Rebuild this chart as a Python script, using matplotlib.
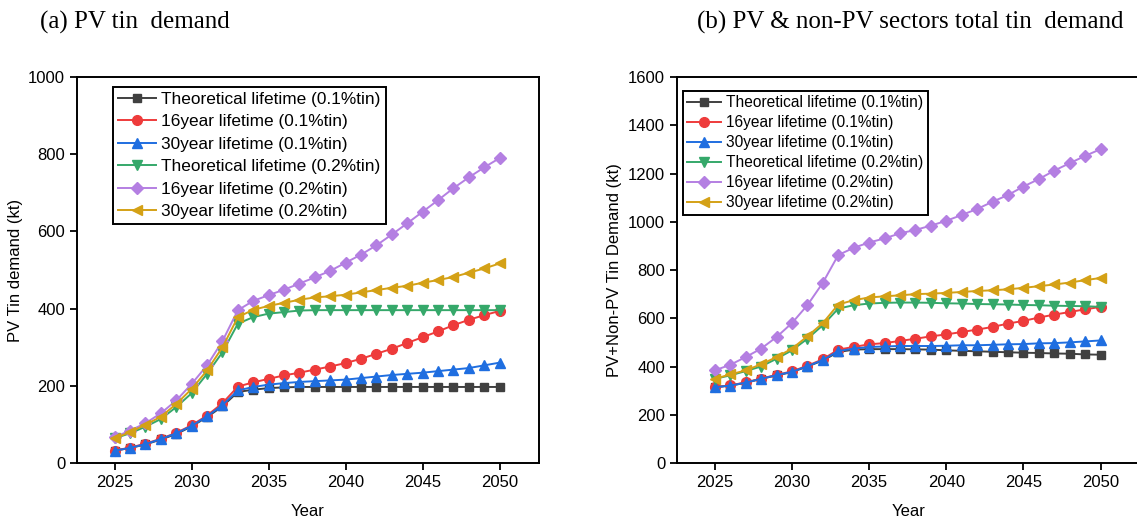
import matplotlib.pyplot as plt

# years
years = list(range(2025, 2051))

labels = ['Theoretical lifetime (0.1%tin)', '16year lifetime (0.1%tin)', '30year lifetime (0.1%tin)',
          'Theoretical lifetime (0.2%tin)', '16year lifetime (0.2%tin)', '30year lifetime (0.2%tin)']

# (a) PV tin demand (kt)
pv_theo_01 = [32, 39, 48, 61, 75, 95, 119, 147, 184, 190, 194, 196, 197, 197, 197, 197, 197, 197, 197,
              197, 197, 197, 197, 197, 197, 197]
pv_16y_01 = [32, 40, 50, 63, 78, 98, 123, 155, 198, 209, 218, 227, 234, 242, 250, 259, 270, 283, 296,
             311, 326, 341, 357, 371, 383, 394]
pv_30y_01 = [32, 39, 49, 62, 77, 96, 121, 150, 188, 197, 203, 207, 210, 212, 214, 216, 220, 224, 228,
             231, 234, 238, 242, 246, 253, 260]
pv_theo_02 = [64, 77, 94, 114, 145, 181, 231, 287, 361, 378, 387, 391, 395, 396, 396, 396, 396, 396, 396,
              396, 396, 396, 396, 396, 396, 396]
pv_16y_02 = [67, 84, 103, 129, 162, 205, 253, 316, 396, 420, 435, 449, 465, 481, 498, 519, 540, 564, 592,
             621, 651, 681, 712, 740, 766, 790]
pv_30y_02 = [64, 80, 99, 120, 153, 192, 240, 300, 378, 397, 407, 415, 423, 429, 432, 436, 442, 448, 454,
             459, 467, 474, 482, 493, 504, 517]

# (b) PV + non-PV total tin demand (kt)
tot_theo_01 = [314, 321, 332, 349, 363, 377, 400, 425, 460, 470, 472, 472, 472, 471, 470, 467, 465, 463,
               461, 459, 457, 456, 454, 453, 450, 449]
tot_16y_01 = [314, 322, 334, 350, 365, 380, 403, 430, 470, 481, 492, 497, 506, 515, 525, 533, 543, 553,
              564, 578, 589, 603, 615, 626, 637, 647]
tot_30y_01 = [314, 321, 333, 349, 364, 378, 401, 427, 464, 474, 481, 483, 485, 485, 485, 486, 488, 488,
              490, 492, 493, 496, 497, 500, 504, 508]
tot_theo_02 = [349, 363, 381, 400, 432, 467, 515, 571, 640, 654, 661, 664, 665, 665, 664, 662, 661, 659,
               658, 657, 655, 654, 652, 651, 650, 647]
tot_16y_02 = [384, 407, 439, 474, 522, 580, 654, 747, 862, 892, 914, 931, 952, 966, 984, 1004, 1028, 1053,
              1083, 1111, 1146, 1177, 1212, 1243, 1273, 1301]
tot_30y_02 = [349, 367, 384, 409, 439, 474, 525, 580, 657, 675, 686, 691, 695, 700, 702, 705, 709, 713,
              716, 720, 726, 733, 740, 748, 758, 767]

colors = ['#404040', '#ee3b3b', '#1f6ee0', '#35a86a', '#b47fe2', '#d4a116']
markers = ['s', 'o', '^', 'v', 'D', '<']
msizes = [6, 7, 7, 7, 6, 7]

plt.rcParams['font.family'] = ['Liberation Sans', 'DejaVu Sans']

fig = plt.figure(figsize=(11.37, 5.25), dpi=100)
ax1 = fig.add_axes([0.0677, 0.1181, 0.4063, 0.7352])
ax2 = fig.add_axes([0.5954, 0.1181, 0.4072, 0.7352])

# (axes, data, ymax, ylabel, legend fontsize, legend spacing, legend pos)
panels = [(ax1, [pv_theo_01, pv_16y_01, pv_30y_01, pv_theo_02, pv_16y_02, pv_30y_02],
           1000, 'PV Tin demand (kt)', 12.4, 0.43, (0.078, 0.975)),
          (ax2, [tot_theo_01, tot_16y_01, tot_30y_01, tot_theo_02, tot_16y_02, tot_30y_02],
           1600, 'PV+Non-PV Tin Demand (kt)', 11.2, 0.32, (0.012, 0.965))]

for ax, series, ymax, ylab, lfs, lsp, lpos in panels:
    for s, c, m, ms, lab in zip(series, colors, markers, msizes, labels):
        ax.plot(years, s, color=c, marker=m, markersize=ms, linewidth=1.4, label=lab)
    ax.set_xlim(2022.55, 2052.55)
    ax.set_ylim(0, ymax)
    ax.set_xticks([2025, 2030, 2035, 2040, 2045, 2050])
    ax.tick_params(direction='out', length=5, width=1.3, labelsize=12)
    for sp in ax.spines.values():
        sp.set_linewidth(1.4)
    ax.set_xlabel('Year', fontsize=12, labelpad=10)
    ax.set_ylabel(ylab, fontsize=12, labelpad=4)
    leg = ax.legend(loc='upper left', bbox_to_anchor=lpos, fontsize=lfs, fancybox=False,
                    edgecolor='black', framealpha=1, handlelength=2.2, handletextpad=0.3,
                    labelspacing=lsp, borderpad=0.3, borderaxespad=0)
    leg.get_frame().set_linewidth(1.4)

ax2.set_yticks(range(0, 1601, 200))

fig.text(0.035, 0.958, '(a) PV tin  demand', fontsize=18, family='Liberation Serif', va='center')
fig.text(0.613, 0.958, '(b) PV & non-PV sectors total tin  demand', fontsize=18,
         family='Liberation Serif', va='center')

plt.savefig('out.png', dpi=100)
